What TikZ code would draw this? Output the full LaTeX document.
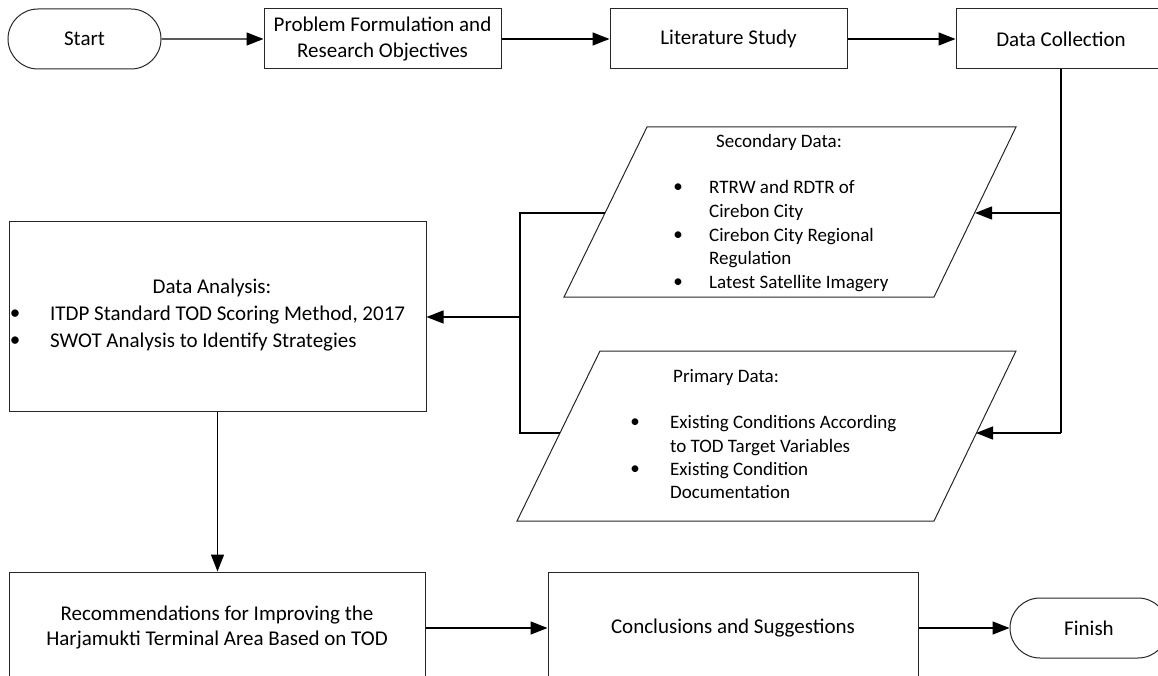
\documentclass[tikz,border=0pt]{standalone}
\usepackage{fontspec}
\setmainfont{Carlito}
\usetikzlibrary{arrows.meta,shapes.misc}
\begin{document}
\begin{tikzpicture}[x=1pt,y=-1pt,
  box/.style={draw=black!85, line width=1pt, rectangle, inner sep=0pt, align=center, font=\fontsize{21}{26}\selectfont},
  term/.style={draw=black!85, line width=1pt, rounded rectangle, inner sep=0pt, minimum height=60pt, font=\fontsize{21}{26}\selectfont},
  conn/.style={line width=1.4pt, -{Triangle[length=17pt,width=13pt]}},
  wire/.style={line width=1.4pt},
  para/.style={draw=black!85, line width=1pt},
  ptext/.style={inner sep=0pt, font=\fontsize{19}{23.7}\selectfont, anchor=mid west},
  dtext/.style={inner sep=0pt, font=\fontsize{21}{27}\selectfont, anchor=mid west},
  bul/.style={inner sep=0pt, anchor=mid}
]
\useasboundingbox (0,0) rectangle (1158,676);
\clip (0,0) rectangle (1158,676);

% top row
\node[term, minimum width=153pt] (start) at (84.5,39) {Start};
\node[box, minimum width=237pt, minimum height=60pt] (prob) at (382.5,39) {Problem Formulation and\\Research Objectives};
\node[box, minimum width=237pt, minimum height=60pt] (lit) at (728.5,39) {Literature Study};
\node[box, minimum width=210pt, minimum height=60pt] (dc) at (1061,39) {Data Collection};

% parallelograms
\draw[para] (647,127) -- (1016,127) -- (934,297) -- (564,297) -- cycle;
\draw[para] (600,351) -- (1016,351) -- (934,521) -- (517,521) -- cycle;
\coordinate (secR) at (975,213);
\coordinate (secL) at (605,213);
\coordinate (priR) at (976,433);
\coordinate (priL) at (560,433);
\coordinate (junc) at (520,317);

% secondary data text
\node[ptext, anchor=mid] (sech) at (779,145) {Secondary Data:};
\node[bul, font=\fontsize{19}{23.7}\selectfont] (sb1) at (678,190) {•};
\node[bul, font=\fontsize{19}{23.7}\selectfont] (sb2) at (678,238) {•};
\node[bul, font=\fontsize{19}{23.7}\selectfont] (sb3) at (678,285) {•};
\node[ptext] (st1) at (709,191) {RTRW and RDTR of};
\node[ptext] (st2) at (709,215) {Cirebon City};
\node[ptext] (st3) at (709,239) {Cirebon City Regional};
\node[ptext] (st4) at (709,262) {Regulation};
\node[ptext] (st5) at (709,286) {Latest Satellite Imagery};

% primary data text
\node[ptext, anchor=mid] (prih) at (726,380) {Primary Data:};
\node[bul, font=\fontsize{19}{23.7}\selectfont] (pb1) at (635,425) {•};
\node[bul, font=\fontsize{19}{23.7}\selectfont] (pb2) at (635,472) {•};
\node[ptext] (pt1) at (670,426) {Existing Conditions According};
\node[ptext] (pt2) at (670,450) {to TOD Target Variables};
\node[ptext] (pt3) at (670,473) {Existing Condition};
\node[ptext] (pt4) at (670,496) {Documentation};

% data analysis
\node[box, minimum width=417pt, minimum height=189pt] (da) at (217.5,316.5) {};
\node[dtext, anchor=mid] (dah) at (212,291) {Data Analysis:};
\node[bul, font=\fontsize{21}{27}\selectfont] (db1) at (15,317) {•};
\node[bul, font=\fontsize{21}{27}\selectfont] (db2) at (15,344) {•};
\node[dtext] (dt1) at (50,318) {ITDP Standard TOD Scoring Method, 2017};
\node[dtext] (dt2) at (50,345) {SWOT Analysis to Identify Strategies};

% bottom row
\node[box, minimum width=416pt, minimum height=112pt, font=\fontsize{21}{25}\selectfont] (rec) at (217,628) {Recommendations for Improving the\\Harjamukti Terminal Area Based on TOD};
\node[box, minimum width=370pt, minimum height=112pt] (conc) at (733,628) {Conclusions and Suggestions};
\node[term, minimum width=158pt] (fin) at (1089,628) {Finish};

% connectors
\draw[conn] (start) -- (prob);
\draw[conn] (prob) -- (lit);
\draw[conn] (lit) -- (dc);
\draw[wire] (dc.south) -- (dc.south |- priR);
\draw[conn] (dc.south |- secR) -- (secR);
\draw[conn] (dc.south |- priR) -- (priR);
\draw[wire] (secL) -| (junc) |- (priL);
\draw[conn] (junc) -- (da.east |- junc);
\draw[conn] (da.south) -- (da.south |- rec.north);
\draw[conn] (rec) -- (conc);
\draw[conn] (conc) -- (fin);
\end{tikzpicture}
\end{document}
